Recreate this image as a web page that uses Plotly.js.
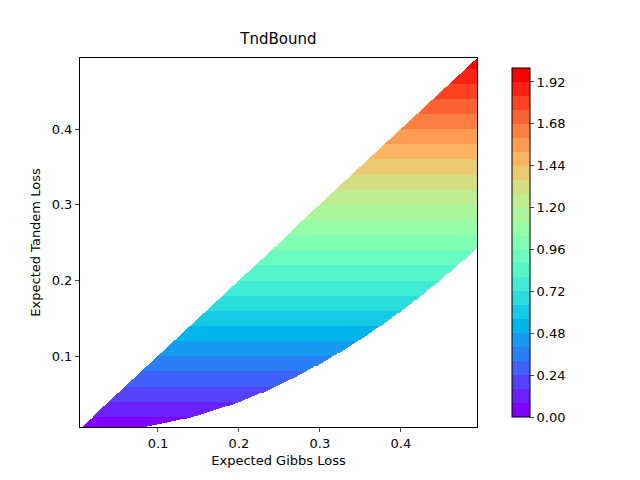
<!DOCTYPE html>
<html>
<head>
<script src="https://cdn.plot.ly/plotly-3.0.1.min.js"></script>
<style>body{margin:0;background:#fff}</style>
</head>
<body>
<div id="chart" style="width:640px;height:480px"></div>
<script>
// grid of expected gibbs loss (x) and tandem loss (y)
const N = 400;
const gibbs = [...Array(N).keys()].map(i => 0.005 + i * 0.49 / (N - 1));
const tandem = [...Array(N).keys()].map(i => 0.005 + i * 0.49 / (N - 1));
// contour levels of the bound
const levelStart = 0, levelEnd = 2, levelStep = 0.08;
const cbTicks = [0, 0.24, 0.48, 0.72, 0.96, 1.20, 1.44, 1.68, 1.92];

const nBands = Math.round((levelEnd - levelStart) / levelStep);

const rainbow = (t) => {
  const c = v => Math.round(255 * Math.min(1, Math.max(0, v)));
  return `rgb(${c(Math.abs(2 * t - 0.5))},${c(Math.sin(Math.PI * t))},${c(Math.cos(Math.PI * t / 2))})`;
};

let colorscale = [];
for (let i = 0; i < nBands; i++) {
  const col = rainbow(i / (nBands - 1));
  colorscale.push([i / nBands, col]);
  colorscale.push([(i + 1) / nBands, col]);
}

// bound value 4*tandem, valid where gibbs^2 <= tandem <= gibbs
const z = tandem.map(y => gibbs.map(x => {
  if (y > x || y < x * x) return null;
  const v = 4 * y;
  const band = Math.min(nBands - 1, Math.floor(v / levelStep));
  return levelStart + (band + 0.5) * levelStep;
}));

const fontColor = '#000';

Plotly.newPlot('chart', [{
  type: 'heatmap',
  x: gibbs,
  y: tandem,
  z: z,
  zmin: levelStart,
  zmax: levelEnd,
  zsmooth: false,
  colorscale: colorscale,
  hoverongaps: false,
  colorbar: {
    x: 1.063,
    xanchor: 'left',
    y: 0,
    yanchor: 'bottom',
    len: 1,
    thickness: 18,
    outlinewidth: 1,
    outlinecolor: '#000',
    tickvals: cbTicks,
    ticktext: cbTicks.map(v => v.toFixed(2)),
    ticks: 'outside',
    ticklen: 4,
    tickfont: {size: 13, color: fontColor}
  }
}], {
  width: 640,
  height: 480,
  paper_bgcolor: '#fff',
  plot_bgcolor: '#fff',
  margin: {t: 58, l: 80, r: 163, b: 53},
  font: {family: 'DejaVu Sans', color: fontColor},
  title: {text: 'TndBound', x: 0.435, xanchor: 'center', y: 0.93, font: {size: 15}},
  xaxis: {
    range: [0.0037, 0.494],
    tickvals: [0.1, 0.2, 0.3, 0.4],
    ticks: 'outside', ticklen: 4,
    showgrid: false, zeroline: false,
    showline: true, mirror: true, linecolor: '#000', linewidth: 1,
    tickfont: {size: 13},
    title: {text: 'Expected Gibbs Loss', font: {size: 13}, standoff: 6}
  },
  yaxis: {
    range: [0.0062, 0.494],
    tickvals: [0.1, 0.2, 0.3, 0.4],
    ticks: 'outside', ticklen: 4,
    showgrid: false, zeroline: false,
    showline: true, mirror: true, linecolor: '#000', linewidth: 1,
    tickfont: {size: 13},
    title: {text: 'Expected Tandem Loss', font: {size: 13}, standoff: 8}
  }
}, {displayModeBar: false});
</script>
</body>
</html>
